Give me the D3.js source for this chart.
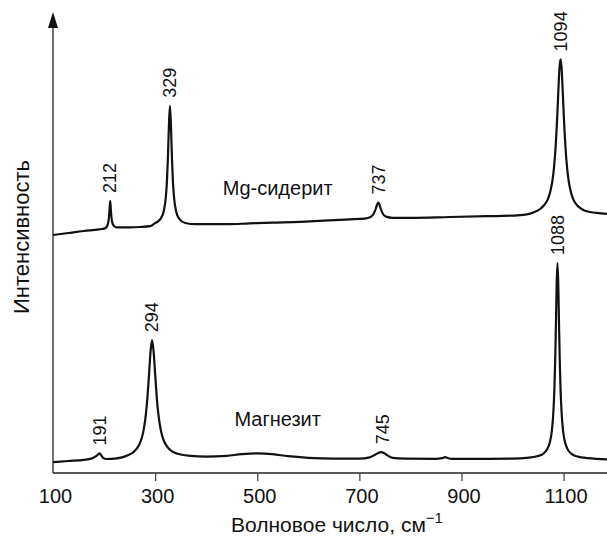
<!DOCTYPE html>
<html>
<head>
<meta charset="utf-8">
<script src="https://cdn.jsdelivr.net/npm/d3@7"></script>
<style>
  body { margin: 0; background: #fff; }
  svg { display: block; font-family: "Liberation Sans", Arial, sans-serif; }
</style>
</head>
<body>
<svg id="chart" width="607" height="538"></svg>
<script>
// Mg-siderite spectrum (upper curve)
var sideriteWn = [100, 130, 160, 190, 200, 205, 208, 210, 211, 212, 213, 214, 216, 219, 225, 250, 270, 290,
  299, 311, 317, 321, 323, 325, 327, 329, 331, 333, 335, 337, 341, 347, 359, 380, 440, 485, 530, 583, 630, 681,
  710, 722, 728, 732, 735, 737, 739, 742, 746, 752, 765, 800, 877, 950, 1000, 1025, 1040, 1054, 1062, 1069,
  1074, 1078, 1081, 1084, 1086, 1088, 1090, 1092, 1094, 1096, 1098, 1100, 1102, 1104, 1107, 1110, 1114, 1119,
  1126, 1134, 1149, 1174, 1185];
var sideriteInt = [59.5, 60.0, 60.5, 60.9, 61.1, 61.5, 62.5, 64.5, 66.5, 68.0, 66.5, 64.5, 62.6, 61.8, 61.4, 61.4, 61.5, 61.7,
  62.4, 63.6, 65.5, 69.0, 72.6, 78.6, 86.8, 91.8, 86.8, 78.6, 72.6, 69.0, 65.5, 63.6, 62.5, 62.2, 62.2, 62.4, 62.6, 62.8, 63.1, 63.4,
  63.6, 64.0, 64.8, 66.0, 67.2, 67.6, 67.2, 66.0, 64.8, 64.1, 63.8, 63.8, 64.0, 64.2, 64.35, 64.6, 65.1, 66.0, 67.0, 68.4,
  70.4, 73.0, 76.1, 80.8, 85.1, 90.4, 96.3, 101.4, 103.4, 101.4, 96.3, 90.4, 85.1, 80.8, 76.1, 73.0, 70.4, 68.4,
  67.0, 66.1, 65.3, 64.9, 64.8];

// Magnesite spectrum (lower curve)
var magnesiteWn = [100, 130, 160, 175, 183, 188, 191, 194, 198, 205, 220, 235, 244, 259, 268, 274, 278, 282, 285, 288,
  291, 294, 297, 300, 303, 306, 310, 314, 320, 329, 344, 369, 400, 440, 470, 500, 530, 560, 600, 650, 700, 720, 730,
  737, 742, 748, 755, 765, 790, 850, 862, 868, 874, 882, 950, 1000, 1028, 1048, 1060, 1068, 1073, 1077, 1080, 1082,
  1083.5, 1085, 1086.5, 1088, 1089.5, 1091, 1092.5, 1094, 1096, 1099, 1103, 1108, 1116, 1128, 1148, 1185];
var magnesiteInt = [2.7, 3.0, 3.3, 3.6, 4.1, 4.6, 4.9, 4.5, 3.8, 3.5, 3.6, 3.9, 4.3, 5.4, 6.9, 8.8, 11.1, 14.8, 19.0, 24.5,
  30.2, 33.2, 30.4, 24.8, 19.3, 15.1, 11.5, 9.2, 7.3, 5.8, 4.8, 4.3, 4.1, 4.3, 4.7, 4.9, 4.7, 4.2, 3.8, 3.6, 3.6, 3.9, 4.5,
  5.0, 5.2, 5.0, 4.4, 3.8, 3.6, 3.55, 3.7, 3.95, 3.7, 3.55, 3.55, 3.6, 3.8, 4.2, 4.8, 6.0, 7.6, 10.5, 15.3, 21.1,
  28.0, 37.4, 47.6, 52.5, 47.6, 37.4, 28.0, 21.1, 15.3, 10.5, 7.6, 5.9, 4.7, 4.1, 3.7, 3.4];

// peak labels
var sideritePeaks = [212, 329, 737, 1094];
var magnesitePeaks = [191, 294, 745, 1088];
var xTicks = [100, 300, 500, 700, 900, 1100];

var svg = d3.select("#chart");
var W = 607, H = 538;
var mLeft = 53, mBottom = 473, mTop = 12;

var x = d3.scaleLinear().domain([100, 1185]).range([mLeft, W]);
var y = d3.scaleLinear().domain([0, 115]).range([mBottom, mTop + 1]);

var line = d3.line()
  .x(function(d) { return x(d[0]); })
  .y(function(d) { return y(d[1]); })
  .curve(d3.curveMonotoneX);

function draw_series(wn, vals, peaks, name) {
  var pts = wn.map(function(w, i) { return [w, vals[i]]; });
  svg.append("path")
    .datum(pts)
    .attr("d", line)
    .attr("fill", "none")
    .attr("stroke", "#111")
    .attr("stroke-width", 2.2)
    .attr("stroke-linejoin", "round");

  peaks.forEach(function(p) {
    // top of the curve near the peak
    var pk = d3.max(pts.filter(function(d) { return Math.abs(d[0] - p) <= 5; }), function(d) { return d[1]; });
    var px = x(p), py = y(pk) - 8;
    svg.append("text")
      .attr("transform", "translate(" + px + "," + py + ") rotate(-90)")
      .attr("dy", "0.35em")
      .attr("font-size", 18)
      .attr("fill", "#111")
      .text(p);
  });

  var lx = 540;
  var near = pts.reduce(function(a, b) { return Math.abs(b[0] - lx) < Math.abs(a[0] - lx) ? b : a; });
  svg.append("text")
    .attr("x", x(lx))
    .attr("y", y(near[1]) - 28)
    .attr("text-anchor", "middle")
    .attr("font-size", 20)
    .attr("fill", "#111")
    .text(name);
}

draw_series(sideriteWn, sideriteInt, sideritePeaks, "Mg-сидерит");
draw_series(magnesiteWn, magnesiteInt, magnesitePeaks, "Магнезит");

// x axis
var xAxis = svg.append("g")
  .attr("transform", "translate(0," + mBottom + ")")
  .call(d3.axisBottom(x).tickValues(xTicks).tickSize(8).tickPadding(8).tickFormat(d3.format("d")));
xAxis.select(".domain").attr("stroke", "#222").attr("stroke-width", 1.3).attr("d", "M" + mLeft + ",0H" + W);
xAxis.selectAll(".tick line").attr("stroke", "#444").attr("stroke-width", 1.3);
xAxis.selectAll(".tick").filter(function(d) { return d === 100; }).select("line").remove();
xAxis.selectAll(".tick text")
  .attr("font-size", 20)
  .attr("font-family", "Liberation Sans, Arial, sans-serif")
  .attr("fill", "#111")
  .attr("dx", 2);

// y axis with arrow
svg.append("line")
  .attr("x1", mLeft).attr("x2", mLeft)
  .attr("y1", mBottom).attr("y2", mTop + 14)
  .attr("stroke", "#222").attr("stroke-width", 1.3);
svg.append("path")
  .attr("d", "M" + mLeft + "," + mTop + "L" + (mLeft - 5) + "," + (mTop + 16) + "L" + (mLeft + 5) + "," + (mTop + 16) + "Z")
  .attr("fill", "#111");

// axis titles
var xt = svg.append("text")
  .attr("x", 337)
  .attr("y", 532)
  .attr("text-anchor", "middle")
  .attr("font-size", 21)
  .attr("fill", "#111");
xt.append("tspan").text("Волновое число, см");
xt.append("tspan").attr("dy", -9).attr("font-size", 15).text("−1");

svg.append("text")
  .attr("transform", "translate(29,237) rotate(-90)")
  .attr("text-anchor", "middle")
  .attr("font-size", 22)
  .attr("fill", "#111")
  .text("Интенсивность");
</script>
</body>
</html>
